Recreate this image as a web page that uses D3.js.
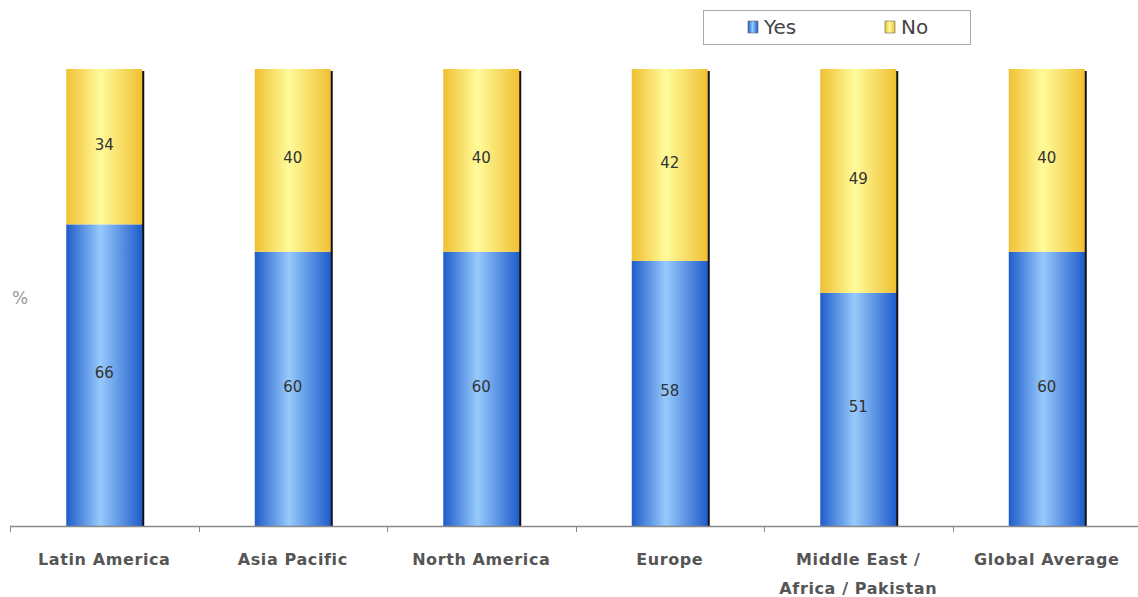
<!DOCTYPE html>
<html><head><meta charset="utf-8">
<script src="https://cdn.jsdelivr.net/npm/d3@7"></script>
<style>body{margin:0;background:#fff}svg{display:block}</style>
</head><body>
<svg id="c" width="1138" height="597"></svg>
<script>
const categories = [["Latin America"],["Asia Pacific"],["North America"],["Europe"],["Middle East /","Africa / Pakistan"],["Global Average"]];
const yesValues = [66,60,60,58,51,60];
const noValues = [34,40,40,42,49,40];
const seriesNames = ["Yes","No"];

const svg = d3.select("#c");
const W = 1138, H = 597;
const x0 = 10, x1 = 1141, yTop = 69, yBot = 526;
const x = d3.scaleBand().domain(d3.range(categories.length)).range([x0, x1]).paddingInner(0).paddingOuter(0);
const y = d3.scaleLinear().domain([0,100]).range([yBot, yTop]);
const barW = 76;

const defs = svg.append("defs");
function grad(id, edge, mid){
  const g = defs.append("linearGradient").attr("id", id).attr("x1","0").attr("x2","1").attr("y1","0").attr("y2","0");
  g.append("stop").attr("offset","0%").attr("stop-color", edge);
  g.append("stop").attr("offset","45%").attr("stop-color", mid);
  g.append("stop").attr("offset","100%").attr("stop-color", edge);
}
grad("gy", "#1f5cca", "#97cafc");
grad("gn", "#f0c032", "#fffb9a");

const stack = categories.map((c,i)=>({i, yes: yesValues[i], no: noValues[i]}));

const g = svg.append("g");
stack.forEach(d=>{
  const cx = x(d.i) + x.bandwidth()/2;
  const left = cx - barW/2;
  g.append("rect").attr("x", left+barW-1).attr("y", y(d.yes+d.no)+2).attr("width",3).attr("height", y(0)-y(d.yes+d.no)-2).attr("fill","#111");
  g.append("rect").attr("x", left).attr("y", y(d.yes)).attr("width", barW).attr("height", y(0)-y(d.yes)).attr("fill","url(#gy)");
  g.append("rect").attr("x", left).attr("y", y(d.yes+d.no)).attr("width", barW).attr("height", y(d.yes)-y(d.yes+d.no)).attr("fill","url(#gn)");
  g.append("text").attr("x", cx).attr("y", (y(0)+y(d.yes))/2 + 3).attr("text-anchor","middle")
    .attr("font-family","DejaVu Sans, sans-serif").attr("font-size",15).attr("fill","#333").text(d.yes);
  g.append("text").attr("x", cx).attr("y", (y(d.yes)+y(d.yes+d.no))/2 + 3).attr("text-anchor","middle")
    .attr("font-family","DejaVu Sans, sans-serif").attr("font-size",15).attr("fill","#333").text(d.no);
});

const ax = svg.append("g");
ax.append("line").attr("x1", x0).attr("x2", W).attr("y1", yBot+0.5).attr("y2", yBot+0.5).attr("stroke","#888").attr("stroke-width",1.5);
d3.range(categories.length+1).forEach(i=>{
  const tx = Math.round(x0 + i*x.step())+0.5;
  ax.append("line").attr("x1",tx).attr("x2",tx).attr("y1",yBot).attr("y2",yBot+6).attr("stroke","#888");
});
categories.forEach((lines,i)=>{
  const cx = x(i)+x.bandwidth()/2;
  const t = ax.append("text").attr("text-anchor","middle").attr("font-family","DejaVu Sans, sans-serif")
    .attr("font-weight","bold").attr("font-size",16).attr("letter-spacing",0.6).attr("fill","#555");
  lines.forEach((l,k)=>t.append("tspan").attr("x",cx).attr("y",565+k*29).text(l));
});

svg.append("text").attr("x",20).attr("y",304).attr("text-anchor","middle").attr("font-family","DejaVu Sans, sans-serif")
  .attr("font-size",17).attr("fill","#999").text("%");

const lg = svg.append("g");
lg.append("rect").attr("x",703.5).attr("y",10.5).attr("width",267).attr("height",34).attr("fill","#fff").attr("stroke","#aaa");
const legendItems = [{name: seriesNames[0], fill:"url(#gy)", x:748},{name: seriesNames[1], fill:"url(#gn)", x:885}];
legendItems.forEach(it=>{
  lg.append("rect").attr("x",it.x).attr("y",21).attr("width",10).attr("height",12).attr("fill",it.fill).attr("stroke","#666").attr("stroke-width",0.6);
  lg.append("text").attr("x",it.x+16).attr("y",34).attr("font-family","DejaVu Sans, sans-serif").attr("font-size",20).attr("fill","#444").text(it.name);
});
</script>
</body></html>
